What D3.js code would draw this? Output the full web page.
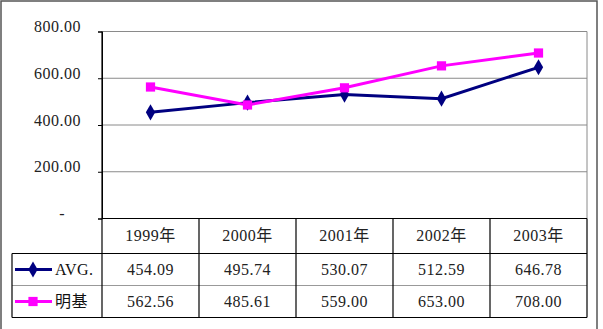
<!DOCTYPE html>
<html><head><meta charset="utf-8">
<script src="https://cdn.jsdelivr.net/npm/d3@7"></script>
<style>
body{margin:0;background:#fff;}
svg{display:block;}
.num{font-family:"Liberation Serif","Noto Sans CJK SC",serif;font-size:16px;letter-spacing:0.5px;fill:#222;}
.lab{font-family:"Liberation Serif","Noto Sans CJK SC",serif;font-size:16px;letter-spacing:0.5px;fill:#111;}
</style></head>
<body>
<svg id="c" width="603" height="329"></svg>
<script>
const categories = ["1999年","2000年","2001年","2002年","2003年"];
const seriesNames = ["AVG.","明基"];
const avgValues = [454.09, 495.74, 530.07, 512.59, 646.78];
const mingjiValues = [562.56, 485.61, 559.00, 653.00, 708.00];
const yTicks = [0, 200, 400, 600, 800];
const yTickLabels = ["-", "200.00", "400.00", "600.00", "800.00"];
const colors = ["#000080", "#FF00FF"];

const svg = d3.select("#c");
const L = 102, R = 587, T = 31.5, B = 218.5;
const legendLeft = 12;
const rowTops = [218.5, 253.5, 285.5, 317.5];

svg.append("rect").attr("x",1).attr("y",1).attr("width",596).attr("height",340)
  .attr("fill","none").attr("stroke","#555").attr("stroke-width",1.5);

const x = d3.scaleBand().domain(categories).range([L, R]);
const y = d3.scaleLinear().domain([0, 800]).range([B, T]);

svg.append("g").selectAll("line").data(yTicks.filter(d=>d>0)).join("line")
  .attr("x1",L).attr("x2",R).attr("y1",d=>y(d)).attr("y2",d=>y(d))
  .attr("stroke","#8a8a8a").attr("stroke-width",1);
svg.append("line").attr("x1",R).attr("x2",R).attr("y1",T).attr("y2",B).attr("stroke","#8a8a8a");

const yAxis = d3.axisLeft(y).tickValues(yTicks).tickSize(4).tickFormat(()=>"");
const ya = svg.append("g").attr("transform",`translate(${L},0)`).call(yAxis);
ya.select(".domain").attr("stroke","#000");
ya.selectAll(".tick line").attr("stroke","#000");
svg.append("g").selectAll("text").data(yTicks).join("text")
  .attr("class","num").attr("text-anchor","end")
  .attr("x",(d,i)=> i===0 ? 65 : 81).attr("y",d=>y(d)-5).attr("dy","0.35em")
  .text((d,i)=>yTickLabels[i]);

const tbl = svg.append("g").attr("stroke","#000").attr("stroke-width",1.2);
tbl.append("line").attr("x1",L).attr("x2",R).attr("y1",B).attr("y2",B);
tbl.append("line").attr("x1",legendLeft).attr("x2",R).attr("y1",rowTops[1]).attr("y2",rowTops[1]);
tbl.append("line").attr("x1",legendLeft).attr("x2",R).attr("y1",rowTops[2]).attr("y2",rowTops[2]).attr("stroke","#999");
tbl.append("line").attr("x1",legendLeft).attr("x2",R).attr("y1",rowTops[3]).attr("y2",rowTops[3]);
tbl.append("line").attr("x1",legendLeft).attr("x2",legendLeft).attr("y1",rowTops[1]).attr("y2",rowTops[3]);
tbl.selectAll(".v").data(categories.concat(["end"])).join("line")
  .attr("x1",(d,i)=> i<categories.length ? x(d) : R).attr("x2",(d,i)=> i<categories.length ? x(d) : R)
  .attr("y1",(d,i)=> i===0 ? T : B).attr("y2",rowTops[3]);

svg.append("g").selectAll("text").data(categories).join("text")
  .attr("class","num").attr("text-anchor","middle")
  .attr("x",d=>x(d)+x.bandwidth()/2).attr("y",(rowTops[0]+rowTops[1])/2 - 1).attr("dy","0.35em")
  .text(d=>d);

const allSeries = [avgValues, mingjiValues];
allSeries.forEach((vals, si) => {
  const cy = (rowTops[si+1]+rowTops[si+2])/2;
  svg.append("g").selectAll("text").data(vals).join("text")
    .attr("class","num").attr("text-anchor","middle")
    .attr("x",(d,i)=>x(categories[i])+x.bandwidth()/2).attr("y",cy).attr("dy","0.35em")
    .text(d=>d.toFixed(2));
  svg.append("line").attr("x1",15).attr("x2",52).attr("y1",cy).attr("y2",cy)
    .attr("stroke",colors[si]).attr("stroke-width",3);
  svg.append("path").attr("transform",`translate(33,${cy})`)
    .attr("d", si===0 ? d3.symbol(d3.symbolDiamond, 75)() : d3.symbol(d3.symbolSquare, 85)())
    .attr("fill",colors[si]);
  svg.append("text").attr("class","lab").attr("x",55).attr("y",cy).attr("dy","0.35em")
    .text(seriesNames[si]);
});

const line = d3.line().x((d,i)=>x(categories[i])+x.bandwidth()/2).y(d=>y(d));
allSeries.forEach((vals, si) => {
  svg.append("path").datum(vals).attr("d",line).attr("fill","none")
    .attr("stroke",colors[si]).attr("stroke-width",3);
});
allSeries.forEach((vals, si) => {
  svg.append("g").selectAll("path").data(vals).join("path")
    .attr("transform",(d,i)=>`translate(${x(categories[i])+x.bandwidth()/2},${y(d)})`)
    .attr("d", si===0 ? d3.symbol(d3.symbolDiamond, 75)() : d3.symbol(d3.symbolSquare, 85)())
    .attr("fill",colors[si]);
});
</script>
</body></html>
